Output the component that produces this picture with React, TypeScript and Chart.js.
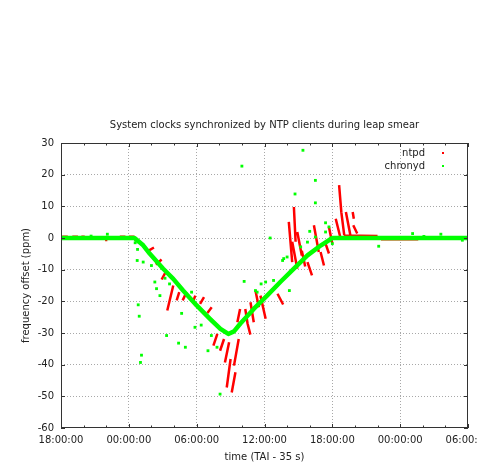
import React, { useEffect, useRef } from 'react';
import { Chart, registerables } from 'chart.js';

Chart.register(...registerables);

// ---- Data (x in hours since 18:00:00 of the first day, y in ppm) ----
const xTickLabels = ['18:00:00', '00:00:00', '06:00:00', '12:00:00', '18:00:00', '00:00:00', '06:00:00'];
const yTickValues = [-60, -50, -40, -30, -20, -10, 0, 10, 20, 30];

// chronyd: dense main track
const chronydTrackHours = [0, 6.5, 7.27, 7.86, 9.04, 9.93, 10.8, 12.0, 13.2, 14.1, 14.8, 15.3, 15.87, 17.05, 18.23, 19.4, 20.6, 21.8, 23.0, 24.0, 36];
const chronydTrackPpm = [0, 0, -2.3, -5.0, -9.7, -12.9, -16.6, -21.3, -25.6, -28.7, -30.3, -29.5, -27.0, -22.4, -18.2, -13.9, -9.7, -5.5, -2.3, 0, 0];

// chronyd: scattered samples
const chronydPointHours = [2.66, 4.1, 6.56, 6.77, 6.74, 7.27, 8.3, 8.45, 8.75, 9.2, 6.83, 6.92, 7.12, 7.03, 9.34, 10.4, 11.0, 10.67, 11.85, 12.4, 13.0, 14.07, 13.3, 13.8, 16.0, 21.4, 22.5, 22.5, 20.7, 18.5, 23.4, 23.7, 22.0, 16.2, 17.7, 18.1, 17.2, 19.6, 20.0, 20.2, 21.2, 24.0, 28.1, 31.1, 33.6, 32.1, 35.5, 8.0, 9.6, 11.55, 17.35, 18.8, 19.7, 21.8, 22.5, 23.4];
const chronydPointPpm = [0.6, 1.2, -1.5, -3.6, -7.1, -7.6, -13.9, -16.0, -18.2, -12.7, -21.1, -24.7, -37.0, -39.3, -30.8, -33.2, -34.5, -23.8, -28.2, -27.5, -35.6, -49.3, -30.8, -34.5, 22.7, 27.7, 18.2, 11.1, 13.9, 0, 4.8, 3.5, 2.1, -13.7, -14.5, -13.9, -16.6, -7.1, -6.0, -16.6, -2.8, -1.8, -2.6, 1.4, 1.2, 0.5, -0.7, -8.7, -14.5, -17.1, -17.1, -13.4, -6.5, -1.3, 0.3, 1.9];

// ntpd: short runs of samples, each [startHour, startPpm, endHour, endPpm]
const ntpdRuns: [number, number, number, number][] = [
  [0.1, 0.4, 0.6, 0.4], [1.0, 0.4, 1.5, 0.4], [1.8, 0.4, 2.1, 0.4], [3.9, -0.6, 4.1, -0.6],
  [5.2, 0.4, 5.7, 0.4], [6.0, 0.4, 6.5, 0.4], [6.5, -0.3, 6.95, -1.6],
  [7.57, -4.4, 8.22, -3.0], [8.39, -8.4, 8.9, -6.8], [8.9, -13.1, 9.22, -11.0],
  [9.4, -22.9, 9.93, -15.0], [10.23, -19.7, 10.46, -17.1], [10.76, -19.7, 11.11, -17.1],
  [11.65, -20.3, 11.88, -18.2], [12.3, -20.8, 12.65, -18.7], [12.95, -23.7, 13.33, -21.9],
  [13.48, -34.0, 13.83, -30.3], [14.07, -35.6, 14.42, -31.9], [14.5, -39.3, 14.87, -32.9],
  [14.66, -47.2, 15.0, -38.2], [15.1, -48.8, 15.43, -42.4], [15.3, -40.3, 15.72, -31.9],
  [15.6, -26.6, 15.84, -22.4],
  [16.3, -22.4, 16.5, -27.0], [16.5, -27.0, 16.75, -30.5], [16.76, -20.3, 17.05, -26.6],
  [17.2, -16.6, 17.5, -21.9], [17.64, -18.2, 18.1, -25.5], [19.15, -17.6, 19.65, -21.0],
  [20.15, 5.1, 20.45, -7.6], [20.6, 9.8, 20.75, -1.2], [20.45, -1.2, 20.9, -9.7],
  [20.9, 1.9, 21.3, -5.5], [21.3, -4.0, 21.6, -9.0], [21.8, -7.6, 22.2, -11.8],
  [22.37, 4.0, 22.8, -4.4], [22.96, -4.4, 23.26, -8.7], [23.4, -1.8, 23.7, -4.9],
  [23.7, 3.5, 24.0, -1.8], [24.3, 6.1, 24.7, 0.3], [24.6, 16.7, 24.8, 8.0],
  [24.8, 8.0, 25.05, 1.0], [25.2, 8.2, 25.6, 0.8], [25.8, 8.2, 25.9, 6.1],
  [25.85, 4.0, 26.2, 1.4], [25.0, 0.8, 28.0, 0.6], [28.3, -0.4, 31.6, -0.4],
];

const FONT = '"DejaVu Sans", sans-serif';
const FONT_SIZE = 10;
const TEXT = '#222';

const decorPlugin = {
  id: 'gnuplotDecor',
  afterDraw(chart: any) {
    const { ctx, chartArea, scales } = chart;
    const { left, right, top, bottom } = chartArea;
    const x = scales.x;
    const y = scales.y;
    ctx.save();
    ctx.strokeStyle = '#333';
    ctx.lineWidth = 1;
    const line = (x1: number, y1: number, x2: number, y2: number) => {
      ctx.beginPath();
      ctx.moveTo(x1, y1);
      ctx.lineTo(x2, y2);
      ctx.stroke();
    };
    // border
    ctx.strokeRect(left + 0.5, top + 0.5, right - left - 1, bottom - top - 1);
    // inward ticks
    for (let h = 0; h <= 36; h += 2) {
      const px = Math.round(x.getPixelForValue(h)) + 0.5;
      const len = h % 6 === 0 ? 4 : 2.5;
      line(px, bottom, px, bottom - len);
      line(px, top, px, top + len);
    }
    for (const v of yTickValues) {
      const py = Math.round(y.getPixelForValue(v)) + 0.5;
      line(left, py, left + 4, py);
      line(right, py, right - 4, py);
    }
    // texts
    ctx.fillStyle = TEXT;
    ctx.font = `${FONT_SIZE}px ${FONT}`;
    ctx.textAlign = 'center';
    ctx.textBaseline = 'middle';
    const cx = (left + right) / 2;
    ctx.fillText('System clocks synchronized by NTP clients during leap smear', cx, 125);
    ctx.fillText('time (TAI - 35 s)', cx, 457);
    ctx.save();
    ctx.translate(26, (top + bottom) / 2);
    ctx.rotate(-Math.PI / 2);
    ctx.fillText('frequency offset (ppm)', 0, 0);
    ctx.restore();
    // legend
    ctx.textAlign = 'right';
    ctx.fillText('ntpd', 425, 153);
    ctx.fillText('chronyd', 425, 166);
    ctx.fillStyle = '#ff0000';
    ctx.fillRect(442, 152, 2, 2);
    ctx.fillStyle = '#00ff00';
    ctx.fillRect(442, 165, 2, 2);
    ctx.restore();
  },
};

export default function App() {
  const ref = useRef<HTMLCanvasElement | null>(null);

  useEffect(() => {
    if (!ref.current) return;
    const trackData = chronydTrackHours.map((h, i) => ({ x: h, y: chronydTrackPpm[i] }));
    const pointData = chronydPointHours.map((h, i) => ({ x: h, y: chronydPointPpm[i] }));
    const runData: { x: number; y: number | null }[] = [];
    ntpdRuns.forEach(([h1, p1, h2, p2]) => {
      runData.push({ x: h1, y: p1 }, { x: h2, y: p2 }, { x: h2, y: null });
    });

    const chart = new Chart(ref.current, {
      type: 'line',
      data: {
        datasets: [
          {
            label: 'chronyd',
            data: pointData,
            showLine: false,
            pointStyle: 'rect',
            pointRadius: 2,
            pointBackgroundColor: '#00ff00',
            pointBorderWidth: 0,
            borderColor: '#00ff00',
            order: 0,
          },
          {
            label: 'chronyd track',
            data: trackData,
            borderColor: '#00ff00',
            borderWidth: 4.5,
            pointRadius: 0,
            tension: 0,
            borderJoinStyle: 'round',
            order: 1,
          },
          {
            label: 'ntpd',
            data: runData as any,
            borderColor: '#ff0000',
            borderWidth: 2.5,
            pointRadius: 0,
            tension: 0,
            spanGaps: false,
            order: 2,
          },
        ],
      },
      options: {
        animation: false,
        responsive: false,
        devicePixelRatio: 1,
        layout: { padding: { top: 143, right: 9, left: 0, bottom: 0 } },
        plugins: {
          legend: { display: false },
          title: { display: false },
          tooltip: { enabled: false },
        },
        scales: {
          x: {
            type: 'linear',
            min: 0,
            max: 36,
            afterFit: (s: any) => {
              s.height = 35;
              s.paddingLeft = 0;
              s.paddingRight = 0;
            },
            ticks: {
              stepSize: 2,
              autoSkip: false,
              maxRotation: 0,
              minRotation: 0,
              padding: 6,
              color: TEXT,
              font: { family: FONT, size: FONT_SIZE },
              callback: (v: any) => {
                const n = Number(v);
                return n % 6 === 0 ? xTickLabels[n / 6] : '';
              },
            },
            grid: {
              drawTicks: false,
              color: (c: any) => {
                const v = c.tick ? c.tick.value : 0;
                return v % 6 === 0 && v !== 0 && v !== 36 ? '#a8a8a8' : 'rgba(0,0,0,0)';
              },
            },
            border: { display: false, dash: [1, 2] },
          },
          y: {
            type: 'linear',
            min: -60,
            max: 30,
            afterFit: (s: any) => {
              s.width = 61;
              s.paddingTop = 0;
              s.paddingBottom = 0;
            },
            ticks: {
              stepSize: 10,
              padding: 7,
              color: TEXT,
              font: { family: FONT, size: FONT_SIZE },
            },
            grid: {
              drawTicks: false,
              color: (c: any) => {
                const v = c.tick ? c.tick.value : 0;
                return v !== -60 && v !== 30 ? '#a8a8a8' : 'rgba(0,0,0,0)';
              },
            },
            border: { display: false, dash: [1, 2] },
          },
        },
      },
      plugins: [decorPlugin],
    });
    return () => chart.destroy();
  }, []);

  return (
    <div style={{ position: 'absolute', left: 0, top: 0, width: 477, height: 463, background: '#fff' }}>
      <canvas ref={ref} width={477} height={463} style={{ display: 'block' }} />
    </div>
  );
}
